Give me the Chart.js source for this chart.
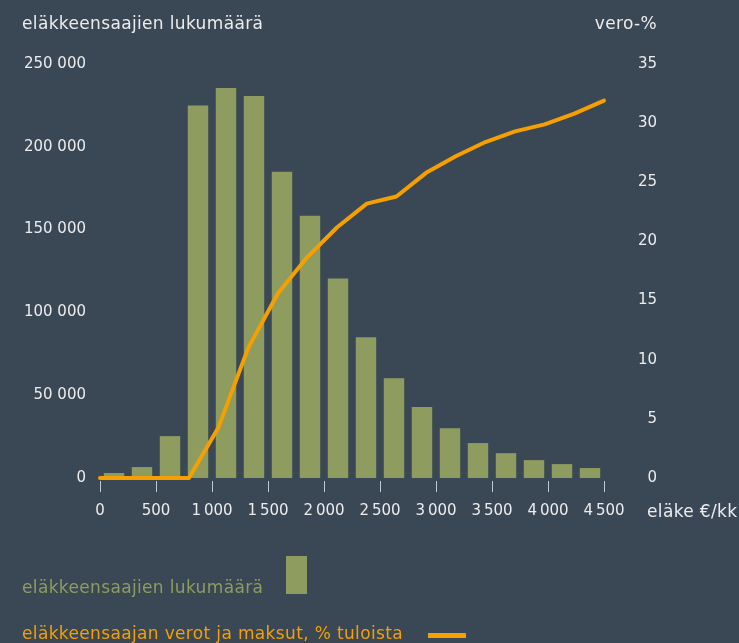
<!DOCTYPE html>
<html lang="fi">
<head>
<meta charset="utf-8">
<script src="https://cdn.jsdelivr.net/npm/chart.js@4"></script>
<style>
    html, body { margin: 0; padding: 0; background: #3a4755; }
    #wrap { position: relative; width: 739px; height: 643px; overflow: hidden; font-family: 'DejaVu Sans', sans-serif; }
    #chart { position: absolute; left: 0; top: 0; }
    .lbl { position: absolute; white-space: nowrap; font-size: 17px; letter-spacing: 0.35px; color: #ececec; line-height: 20px; }
    .swatch { position: absolute; }
</style>
</head>
<body>
<div id="wrap">
    <canvas id="chart" width="739" height="643"></canvas>
    <div class="lbl" style="left:22px; top:13px;">eläkkeensaajien lukumäärä</div>
    <div class="lbl" style="right:82px; top:13px;">vero-%</div>
    <div class="lbl" style="left:647px; top:501px;">eläke €/kk</div>
    <div class="lbl" style="left:22px; top:577px; color:#8e9c5f;">eläkkeensaajien lukumäärä</div>
    <div class="swatch" style="left:286px; top:556px; width:21px; height:38px; background:#8e9c5f;"></div>
    <div class="lbl" style="left:22px; top:623px; color:#f5a000;">eläkkeensaajan verot ja maksut, % tuloista</div>
    <div class="swatch" style="left:428px; top:633px; width:38px; height:5px; background:#f5a000;"></div>
</div>
<script>
// eläkeluokat (€/kk), 250 euron välein
const bins = ['0–250', '250–500', '500–750', '750–1000', '1000–1250', '1250–1500',
    '1500–1750', '1750–2000', '2000–2250', '2250–2500', '2500–2750', '2750–3000',
    '3000–3250', '3250–3500', '3500–3750', '3750–4000', '4000–4250', '4250–4500'];
const pensioners = [3000, 6600, 25300, 225000, 235500, 230700, 185000, 158400, 120500,
    85000, 60200, 42800, 30100, 21100, 15000, 10800, 8400, 6000];
const taxPercent = [0, 0, 0, 0, 4.3, 11.0, 15.6, 18.7, 21.2, 23.2, 23.8, 25.8,
    27.2, 28.4, 29.3, 29.9, 30.8, 31.9];
const euroTicks = [0, 500, 1000, 1500, 2000, 2500, 3000, 3500, 4000, 4500];

const textColor = '#ececec';
const green = '#8e9c5f';
const orange = '#f5a000';

Chart.defaults.font.family = "'DejaVu Sans', sans-serif";
Chart.defaults.font.size = 15;
Chart.defaults.color = textColor;

function thousands(v, sep) {
    return String(v).replace(/\B(?=(\d{3})+(?!\d))/g, sep);
}

new Chart(document.getElementById('chart'), {
    type: 'bar',
    data: {
        labels: bins,
        datasets: [
            {
                type: 'line',
                label: 'eläkkeensaajan verot ja maksut, % tuloista',
                data: taxPercent,
                xAxisID: 'xLine',
                yAxisID: 'yTax',
                borderColor: orange,
                borderWidth: 4,
                borderCapStyle: 'round',
                borderJoinStyle: 'round',
                pointRadius: 0,
                tension: 0,
                clip: false,
                order: 0
            },
            {
                type: 'bar',
                label: 'eläkkeensaajien lukumäärä',
                data: pensioners,
                xAxisID: 'xBars',
                yAxisID: 'y',
                backgroundColor: green,
                grouped: false,
                categoryPercentage: 1,
                barPercentage: 0.73,
                order: 1
            }
        ]
    },
    options: {
        responsive: false,
        animation: false,
        devicePixelRatio: 1,
        layout: { padding: { top: 64, left: 0, right: 82, bottom: 0 } },
        plugins: {
            legend: { display: false },
            tooltip: { enabled: false }
        },
        scales: {
            xBars: { type: 'category', offset: true, display: false },
            xLine: { type: 'category', offset: false, display: false, grid: { offset: false } },
            x: {
                type: 'linear',
                position: 'bottom',
                min: 0,
                max: 4500,
                offset: false,
                afterBuildTicks: scale => { scale.ticks = euroTicks.map(v => ({ value: v })); },
                afterFit: scale => { scale.height = 165; },
                ticks: {
                    padding: 10,
                    maxRotation: 0,
                    callback: v => thousands(v, '\u2009')
                },
                grid: { offset: false, drawOnChartArea: false, tickLength: 14, tickColor: '#c4c9cf', tickWidth: 1 },
                border: { display: true, width: 6, color: 'transparent' }
            },
            y: {
                position: 'left',
                min: 0,
                max: 250000,
                afterFit: scale => { scale.width = 100; },
                ticks: {
                    stepSize: 50000,
                    padding: 14,
                    callback: v => thousands(v, ' ')
                },
                grid: { display: false, drawTicks: false },
                border: { display: false }
            },
            yTax: {
                position: 'right',
                min: 0,
                max: 35,
                afterFit: scale => { scale.width = 53; },
                ticks: {
                    stepSize: 5,
                    padding: 10,
                    crossAlign: 'far'
                },
                grid: { display: false, drawTicks: false },
                border: { display: false }
            }
        }
    }
});
</script>
</body>
</html>
